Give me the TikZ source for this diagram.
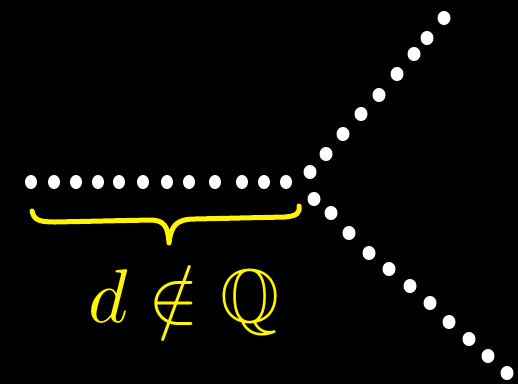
\documentclass[tikz,border=0pt]{standalone}
\usepackage{amsmath, amssymb}
\usepackage{xcolor}
\definecolor{chalk-white}{HTML}{FFFFFF}
\definecolor{chalk-yellow}{HTML}{FFF500}

\begin{document}
\begin{tikzpicture}[x=1pt, y=-1pt,
        dot/.style={fill=chalk-white},
        every node/.style={text=chalk-yellow}]
      \fill[black] (0,0) rectangle (518,384);
      % horizontal run
      \foreach \x in {31,54,76,98,119,143,167,189,215,242,264,286}
        \fill[dot] (\x,182) ellipse (6pt and 7pt);
      % upper branch
      \foreach \x/\y in {310/172,326/154,343/134,361/114,379/95,397/74,414/54,427/38,444/18}
        \fill[dot] (\x,\y) ellipse (6.5pt and 7pt);
      % lower branch
      \foreach \x/\y in {314/199,331/213,349/233,369/253,389/269,410/286,430/303,449/322,469/339,488/356,507/373}
        \fill[dot] (\x,\y) ellipse (6.5pt and 7pt);
      % brace
      \draw[chalk-yellow, line width=5pt, line cap=round, line join=round]
        (32,211) .. controls (34,220) and (39,222) .. (55,222)
        -- (150,220) .. controls (164,220) and (168,226) .. (169,243)
        .. controls (171,226) and (176,219) .. (195,219)
        -- (285,217) .. controls (297,216) and (300,213) .. (299,206);
      \node (label) at (184,300) {\scalebox{7.6}{$d\notin\mathbb{Q}$}};
    \end{tikzpicture}
\end{document}
